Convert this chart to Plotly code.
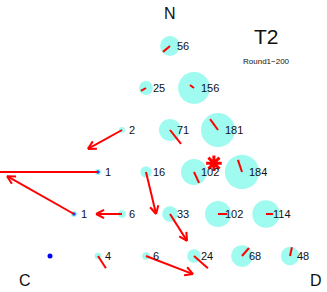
import math
import plotly.graph_objects as go

# ---- data -------------------------------------------------------------
# ternary grid nodes: number of "N" and "D" steps (out of 5)
n_steps = [5, 4, 4, 3, 3, 3, 2, 2, 2, 2, 1, 1, 1, 1, 1, 0, 0, 0, 0, 0, 0]
d_steps = [0, 0, 1, 0, 1, 2, 0, 1, 2, 3, 0, 1, 2, 3, 4, 0, 1, 2, 3, 4, 5]
freq = [56, 25, 156, 2, 71, 181, 1, 16, 102, 184, 1, 6, 33, 102, 114, 0, 4, 6, 24, 68, 48]
# mean shift of each node (grid units: horizontal, vertical)
shift_h = [-0.29, -0.21, -0.17, -1.42, 0.46, -0.33, -5.4, 0.42, 0.21, -0.17,
           -2.79, -1.08, 0.71, 0.375, 0.29, 0.0, 0.33, 1.96, 0.58, 0.29, 0.08]
shift_v = [-0.14, -0.07, 0.07, -0.45, -0.33, 0.26, 0.0, -1.0, -0.26, 0.29,
           0.90, 0.0, -0.64, 0.0, 0.0, 0.0, -0.29, -0.43, -0.29, 0.19, 0.21]
has_head = [False, False, False, True, False, False, True, True, False, False,
            True, True, True, False, False, False, False, True, False, False, False]
centre_h = [6.83]
centre_v = [2.21]
corner_labels = ["N", "C", "D"]
title_text = "T2"
subtitle_text = "Round1\u2212200"

# ---- layout geometry --------------------------------------------------
W, H = 327, 292
x_range = [-2.0833, 11.5417]
y_range = [-0.8571, 6.0952]
px_x = W / (x_range[1] - x_range[0])
px_y = H / (y_range[1] - y_range[0])

node_x = [n + 2 * d for n, d in zip(n_steps, d_steps)]
node_y = list(n_steps)

CYAN = "rgb(118,250,232)"
RED = "#ff0000"

fig = go.Figure()

# cyan circles
cx = [x for x, f in zip(node_x, freq) if f > 0]
cy = [y for y, f in zip(node_y, freq) if f > 0]
cs = [max(6.0, 2.4 * math.sqrt(f) + 1.8) for f in freq if f > 0]
fig.add_trace(go.Scatter(x=cx, y=cy, mode="markers",
                         marker=dict(size=cs, color=CYAN, line=dict(width=0)),
                         hoverinfo="skip", showlegend=False))

# blue dots for empty / single nodes
bx = [x for x, f in zip(node_x, freq) if f <= 1]
by = [y for y, f in zip(node_y, freq) if f <= 1]
bs = [5 if f == 0 else 3.5 for f in freq if f <= 1]
bo = [1.0 if f == 0 else 0.75 for f in freq if f <= 1]
fig.add_trace(go.Scatter(x=bx, y=by, mode="markers",
                         marker=dict(size=bs, color="#0000ff", opacity=bo, line=dict(width=0)),
                         hoverinfo="skip", showlegend=False))

# red shift segments and arrow heads
lx, ly = [], []
head_len, head_ang = 9.0, math.radians(28)
for x0, y0, dh, dv, head in zip(node_x, node_y, shift_h, shift_v, has_head):
    if dh == 0 and dv == 0:
        continue
    x1, y1 = x0 + dh, y0 + dv
    lx += [x0, x1, None]
    ly += [y0, y1, None]
    if head:
        ux, uy = dh * px_x, dv * px_y
        L = math.hypot(ux, uy)
        ux, uy = ux / L, uy / L
        for s in (1, -1):
            ca, sa = math.cos(s * head_ang), math.sin(s * head_ang)
            rx = ux * ca - uy * sa
            ry = ux * sa + uy * ca
            hx = x1 - head_len * rx / px_x
            hy = y1 - head_len * ry / px_y
            lx += [x1, hx, None]
            ly += [y1, hy, None]
fig.add_trace(go.Scatter(x=lx, y=ly, mode="lines",
                         line=dict(color=RED, width=2),
                         hoverinfo="skip", showlegend=False))

# overall mean marker
fig.add_trace(go.Scatter(x=centre_h, y=centre_v, mode="markers",
                         marker=dict(symbol="asterisk-open", size=13, color=RED,
                                     line=dict(color=RED, width=3)),
                         hoverinfo="skip", showlegend=False))

annotations = []
for x, y, f in zip(node_x, node_y, freq):
    if f > 0:
        annotations.append(dict(x=x, y=y, xref="x", yref="y", text=str(f),
                                showarrow=False, xanchor="left", yanchor="middle",
                                xshift=4.5, yshift=0,
                                font=dict(family="Liberation Sans, Arial", size=11, color="#111")))

big = dict(family="Liberation Sans, Arial", color="#111")
annotations += [
    dict(x=170 / W, y=1 - 14 / H, text=corner_labels[0], font=dict(size=16, **big)),
    dict(x=24.5 / W, y=1 - 280.5 / H, text=corner_labels[1], font=dict(size=16, **big)),
    dict(x=315.5 / W, y=1 - 280.5 / H, text=corner_labels[2], font=dict(size=16, **big)),
    dict(x=266.5 / W, y=1 - 37 / H, text=title_text, font=dict(size=21, **big)),
    dict(x=266.5 / W, y=1 - 62 / H, text=subtitle_text, font=dict(size=8, **big)),
]
for a in annotations[-5:]:
    a.update(xref="paper", yref="paper", showarrow=False, xanchor="center", yanchor="middle")

fig.update_layout(
    width=W, height=H, margin=dict(l=0, r=0, t=0, b=0),
    paper_bgcolor="white", plot_bgcolor="white",
    xaxis=dict(range=x_range, visible=False, fixedrange=True),
    yaxis=dict(range=y_range, visible=False, fixedrange=True),
    annotations=annotations, showlegend=False,
)

fig.write_html("out.html", config={"displayModeBar": False},
               post_script="document.body.style.margin='0';document.body.style.overflow='hidden';")
